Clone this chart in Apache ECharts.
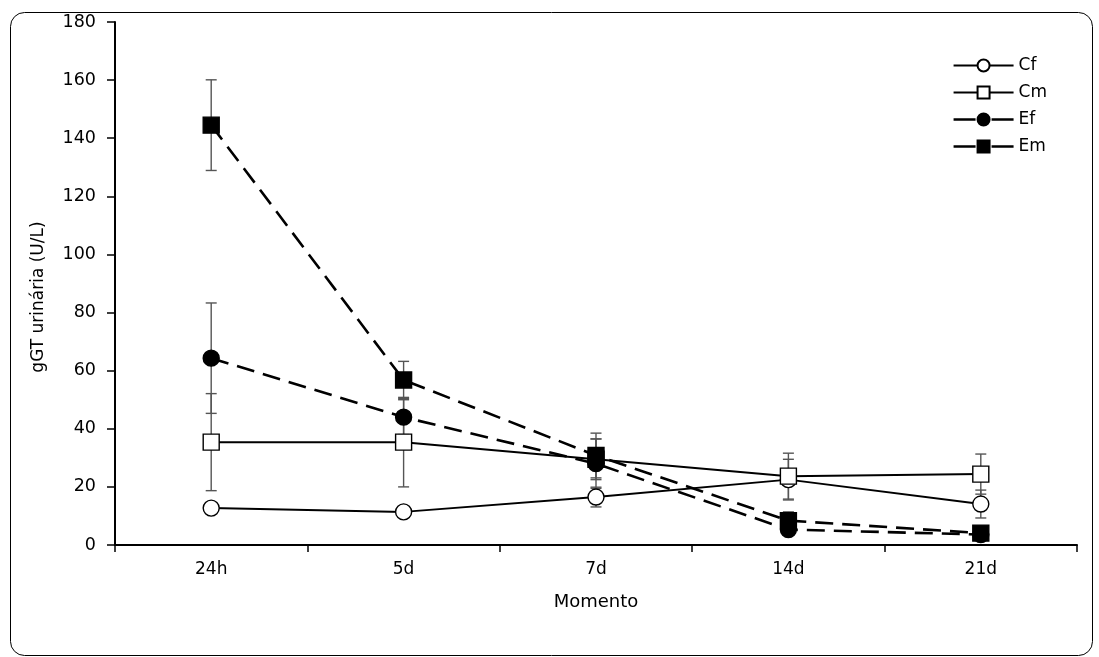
<!DOCTYPE html>
<html><head><meta charset="utf-8">
<script src="https://cdn.jsdelivr.net/npm/echarts@6/dist/echarts.min.js"></script>
<style>html,body{margin:0;padding:0;background:#fff}#c{width:1099px;height:657px}</style>
</head><body><div id="c"></div>
<script>
const categories = ['24h', '5d', '7d', '14d', '21d'];
const yTicks = [0, 20, 40, 60, 80, 100, 120, 140, 160, 180];
const seriesNames = ['Cf', 'Cm', 'Ef', 'Em'];
const cfValues = [12.7, 11.4, 16.5, 22.5, 14.1];
const cmValues = [35.4, 35.4, 29.5, 23.7, 24.4];
const efValues = [64.3, 44.0, 28.0, 5.3, 3.6];
const emValues = [144.5, 56.8, 30.8, 8.4, 4.1];
const cfErrors = [1.5, 1.5, 3.4, 7.0, 4.8];
const cmErrors = [16.7, 15.4, 7.0, 7.9, 6.9];
const efErrors = [19.0, 6.0, 8.5, 1.5, 1.0];
const emErrors = [15.6, 6.4, 7.7, 3.0, 1.0];

const chart = echarts.init(document.getElementById('c'));
const FONT = '"DejaVu Sans", "Liberation Sans", Arial, sans-serif';

function errData(vals, errs) {
  return vals.map((v, i) => [i, v - errs[i], v + errs[i]]);
}
function errSeries(vals, errs) {
  return {
    type: 'custom', z: 1, silent: true,
    data: errData(vals, errs),
    renderItem: function (params, api) {
      const lo = api.coord([api.value(0), api.value(1)]);
      const hi = api.coord([api.value(0), api.value(2)]);
      const w = 5.5;
      const st = { stroke: '#555', lineWidth: 1.4 };
      return { type: 'group', children: [
        { type: 'line', shape: { x1: lo[0], y1: lo[1], x2: hi[0], y2: hi[1] }, style: st },
        { type: 'line', shape: { x1: lo[0] - w, y1: lo[1], x2: lo[0] + w, y2: lo[1] }, style: st },
        { type: 'line', shape: { x1: hi[0] - w, y1: hi[1], x2: hi[0] + w, y2: hi[1] }, style: st }
      ]};
    }
  };
}
function lineSeries(name, vals, symbol, fill, dashed) {
  return {
    name: name, type: 'line', data: vals, z: 3,
    symbol: symbol, symbolSize: 16,
    showAllSymbol: true,
    itemStyle: { color: fill, borderColor: '#000', borderWidth: 1.4 },
    lineStyle: { color: '#000', width: dashed ? 2.6 : 2, type: dashed ? [18, 9] : 'solid' },
    emphasis: { disabled: true }
  };
}

chart.setOption({
  animation: false,
  backgroundColor: '#fff',
  graphic: [{
    type: 'rect', left: 8, top: 10, z: -10,
    shape: { width: 1082, height: 643, r: 14 },
    style: { fill: 'none', stroke: '#000', lineWidth: 1 }
  }, {
    type: 'text', x: 39, y: 297, rotation: Math.PI / 2,
    style: { text: 'gGT urinária (U/L)', align: 'center', verticalAlign: 'middle',
      font: '17px ' + FONT, fill: '#000' }
  }],
  grid: { left: 115, right: 22, top: 22, bottom: 112, containLabel: false },
  legend: {
    right: 47, top: 52, orient: 'vertical', itemGap: 10,
    itemWidth: 60, itemHeight: 15,
    data: [
      { name: 'Cf', lineStyle: { type: 'solid', width: 2 } },
      { name: 'Cm', lineStyle: { type: 'solid', width: 2 } },
      { name: 'Ef', lineStyle: { type: [22, 16], width: 2.6 } },
      { name: 'Em', lineStyle: { type: [22, 16], width: 2.6 } }
    ],
    textStyle: { fontFamily: FONT, fontSize: 17, color: '#000' }
  },
  xAxis: {
    type: 'category', data: categories, boundaryGap: true,
    name: 'Momento', nameLocation: 'middle', nameGap: 48,
    nameTextStyle: { fontFamily: FONT, fontSize: 18, color: '#000' },
    axisLine: { lineStyle: { color: '#000', width: 2 } },
    axisTick: { show: true, length: 7, lineStyle: { color: '#000', width: 1.5 } },
    axisLabel: { fontFamily: FONT, fontSize: 17, color: '#000', margin: 16 },
    splitLine: { show: false }
  },
  yAxis: {
    type: 'value', min: 0, max: 180, interval: 20,
    axisLine: { show: true, lineStyle: { color: '#000', width: 2 } },
    axisTick: { show: true, length: 8, lineStyle: { color: '#000', width: 1.5 } },
    axisLabel: { fontFamily: FONT, fontSize: 17.5, color: '#000', margin: 19,
      formatter: v => yTicks.includes(v) ? String(v) : '' },
    splitLine: { show: false }
  },
  series: [
    errSeries(cfValues, cfErrors),
    errSeries(cmValues, cmErrors),
    errSeries(efValues, efErrors),
    errSeries(emValues, emErrors),
    lineSeries('Cf', cfValues, 'circle', '#fff', false),
    lineSeries('Cm', cmValues, 'rect', '#fff', false),
    lineSeries('Ef', efValues, 'circle', '#000', true),
    lineSeries('Em', emValues, 'rect', '#000', true)
  ]
});
</script></body></html>
